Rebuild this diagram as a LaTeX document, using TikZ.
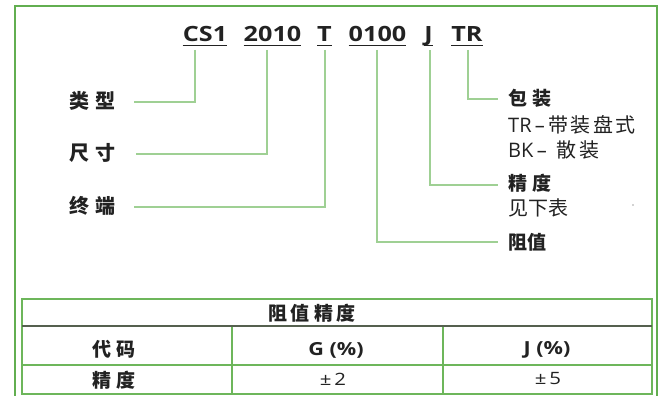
\documentclass[tikz,border=0pt]{standalone}
\usepackage{fontspec}
\setmainfont{Open Sans}
\newfontfamily\cjk{Noto Sans CJK SC}
\newfontfamily\codefont{Open Sans}[FakeStretch=1.2]
\definecolor{framegreen}{HTML}{62AE50}
\definecolor{linkgreen}{HTML}{9FD094}
\definecolor{tablegreen}{HTML}{6DB65B}
\definecolor{headline}{HTML}{55604F}
\definecolor{ink}{HTML}{222222}
\begin{document}
\begin{tikzpicture}[x=1pt,y=-1pt,
  codetxt/.style={anchor=base,inner sep=0pt,text=ink,font=\codefont\bfseries\fontsize{21}{21}\selectfont},
  uline/.style={draw=ink,line width=1pt},
  link/.style={draw=linkgreen,line width=1.3pt},
  lbl/.style={anchor=west,inner sep=0pt,text=ink,font=\cjk\bfseries\fontsize{20}{20}\selectfont},
  rlbl/.style={anchor=west,inner sep=0pt,text=ink,font=\cjk\bfseries\fontsize{19}{19}\selectfont},
  rtxt/.style={anchor=west,inner sep=0pt,text=ink,font=\fontsize{20}{20}\selectfont},
  frame/.style={draw=framegreen,line width=2.6pt},
  tline/.style={draw=tablegreen,line width=1.4pt},
  hline/.style={draw=headline,line width=1.4pt},
  cell/.style={inner sep=0pt,text=ink,font=\cjk\bfseries\fontsize{19}{19}\selectfont},
  cellg/.style={inner sep=0pt,text=ink,font=\codefont\bfseries\fontsize{18}{18}\selectfont},
  cellv/.style={inner sep=0pt,text=ink,font=\codefont\fontsize{17}{17}\selectfont}]
\useasboundingbox (0,0) rectangle (662,396);
\clip (0,0) rectangle (662,396);
\fill[white] (0,0) rectangle (662,396);
% outer frame
\draw[frame] (15,410) -- (15,6) -- (657,6) -- (657,410);
% code
\node[codetxt] (cs)   at (205,42)   {CS1};
\node[codetxt] (sz)   at (272.5,42) {2010};
\node[codetxt] (tm)   at (324.5,42) {T};
\node[codetxt] (val)  at (377.5,42) {0100};
\node[codetxt] (tol)  at (428.5,42) {J};
\node[codetxt] (pk)   at (467,42)   {TR};
\foreach \n in {cs,sz,tm,val,tol,pk}
  \draw[uline] ([yshift=-3.5pt]\n.base west) -- ([yshift=-3.5pt]\n.base east);
% tops of connectors
\coordinate (c1) at (195,50);
\coordinate (c2) at (267,50);
\coordinate (c3) at (325,50);
\coordinate (c4) at (377,50);
\coordinate (c5) at (430,50);
\coordinate (c6) at (468,50);
% ends of connectors
\coordinate (e1) at (134,102);
\coordinate (e2) at (136,154);
\coordinate (e3) at (134,207);
\coordinate (e4) at (498,242);
\coordinate (e5) at (498,185);
\coordinate (e6) at (498,99);
\draw[link] (c1) |- (e1);
\draw[link] (c2) |- (e2);
\draw[link] (c3) |- (e3);
\draw[link] (c4) |- (e4);
\draw[link] (c5) |- (e5);
\draw[link] (c6) |- (e6);
% left labels
\node[lbl] (lx) at (69,101) {类\hspace{6pt}型};
\node[lbl] (ls) at (69,153) {尺\hspace{6pt}寸};
\node[lbl] (lt) at (69,206) {终\hspace{6pt}端};
% right labels
\node[rlbl] (rp)  at (508,98)  {包\hspace{5pt}装};
\node[rtxt] (rtr) at (508,125) {TR\,–\,{\cjk\addfontfeature{LetterSpace=12}带装盘式}};
\node[rtxt] (rbk) at (508,150) {BK\,–\hspace{10pt}{\cjk\addfontfeature{LetterSpace=12}散装}};
\node[rlbl] (rj)  at (508,183) {精\hspace{5pt}度};
\node[rtxt] (rjs) at (508,208) {\cjk 见下表};
\node[rlbl] (rv)  at (508,242) {阻值};
\fill[black!35] (633,205) circle (0.9);
% table
\draw[tline] (22,299) rectangle (652,394);
\draw[tline] (22,365) -- (652,365);
\draw[tline] (232,326) -- (232,394);
\draw[tline] (443,326) -- (443,394);
\draw[hline] (22,326) -- (652,326);
\node[cell] (th) at (312,313) {阻\hspace{4pt}值\hspace{4pt}精\hspace{4pt}度};
\node[cell] (r1) at (114,349) {代\hspace{5pt}码};
\node[cellg] (g1) at (336,350) {G (\%)};
\node[cellg] (j1) at (547,350) {J (\%)};
\node[cell] (r2) at (114,380) {精\hspace{5pt}度};
\node[cellv] (g2) at (333,379) {±\,2};
\node[cellv] (j2) at (548,379) {±\,5};
\end{tikzpicture}
\end{document}
